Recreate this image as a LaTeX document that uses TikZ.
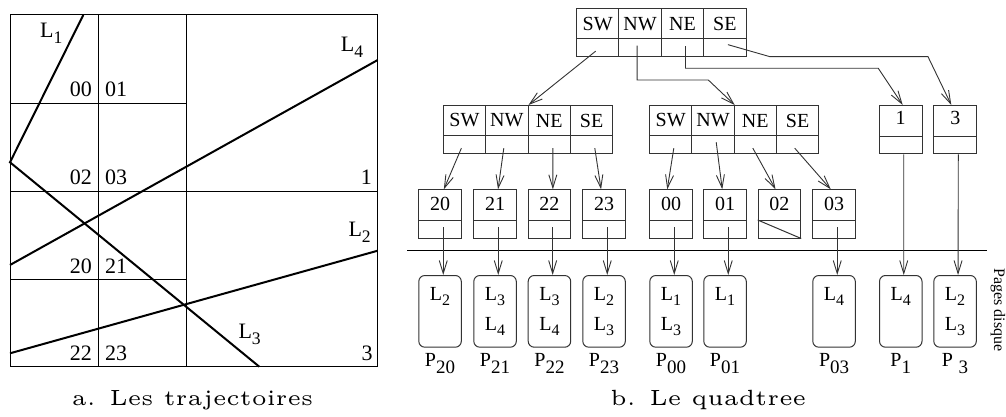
\documentclass[tikz,border=0pt]{standalone}
\usepackage{fontspec}
\usetikzlibrary{arrows.meta,calc}
\newfontfamily\tms{Liberation Serif}
\newcommand\Lsub[1]{L\raisebox{-0.6ex}{\scalebox{0.8}{#1}}}
\newcommand\Psub[1]{P\raisebox{-0.8ex}{\scalebox{0.95}{#1}}}
\definecolor{boxgray}{gray}{0.2}

\begin{document}
\begin{tikzpicture}[x=1pt,y=-1pt,
  gridline/.style={line width=1pt},
  traj/.style={line width=2pt},
  arr/.style={line width=0.9pt, draw=boxgray, -{Straight Barb[length=13pt,width=8pt]}},
  lab/.style={draw=boxgray, line width=1pt, anchor=north west, inner sep=0pt,
    minimum width=42.4pt, minimum height=30pt, font=\tms\fontsize{20}{20}\selectfont},
  ptr/.style={draw=boxgray, line width=1pt, anchor=north west, inner sep=0pt,
    minimum width=42.4pt, minimum height=18pt},
  pagebox/.style={draw=boxgray, line width=1pt, rounded corners=6pt, anchor=north west,
    minimum width=42.5pt, minimum height=71.7pt, inner sep=0pt},
  ptext/.style={font=\tms\fontsize{20}{20}\selectfont, inner sep=0pt, anchor=base},
  cellno/.style={font=\tms\fontsize{22}{22}\selectfont, inner sep=0pt},
  captext/.style={inner sep=0pt, anchor=base}
]
\useasboundingbox (0,0) rectangle (1006,417);

% ---------- a. trajectories in the grid ----------
\draw[gridline] (10,15) rectangle (377.7,366.7);
\draw[gridline] (98.3,15) -- (98.3,366.7);
\draw[gridline] (186,15) -- (186,366.7);
\draw[gridline] (10,103.3) -- (186,103.3);
\draw[gridline] (10,191.7) -- (377.7,191.7);
\draw[gridline] (10,279.3) -- (186,279.3);

\draw[traj] (83.3,15) -- (10,162.3) -- (259.3,366.7);
\draw[traj] (377.7,60) -- (10,265);
\draw[traj] (377.7,250.7) -- (10,353.3);

\node[cellno, anchor=base west] (tL1) at (40,37.7) {\Lsub{1}};
\node[cellno, anchor=base west] (tL4) at (340.7,51.7) {\Lsub{4}};
\node[cellno, anchor=base west] (tL2) at (348.3,236.7) {\Lsub{2}};
\node[cellno, anchor=base west] (tL3) at (238.3,338.3) {\Lsub{3}};

\node[cellno, anchor=base east] (c00) at (92,96.7) {00};
\node[cellno, anchor=base west] (c01) at (105,96.7) {01};
\node[cellno, anchor=base east] (c02) at (92,184.3) {02};
\node[cellno, anchor=base west] (c03) at (105,184.3) {03};
\node[cellno, anchor=base east] (c1) at (372,184.3) {1};
\node[cellno, anchor=base east] (c20) at (92,273.3) {20};
\node[cellno, anchor=base west] (c21) at (105,273.3) {21};
\node[cellno, anchor=base east] (c22) at (92,360.7) {22};
\node[cellno, anchor=base west] (c23) at (105,360.7) {23};
\node[cellno, anchor=base east] (c3) at (372.7,360.7) {3};

\node[captext] (capa) at (192.5,405) {\scalebox{4.4}{\fontsize{5}{6}\selectfont a. Les trajectoires}};

% ---------- b. quadtree ----------
% root and inner nodes
\foreach \q/\n [count=\i from 0] in {sw/SW,nw/NW,ne/NE,se/SE} {
  \node[lab] (r-\q-t) at (576+42.4*\i,8.3) {\n};
  \node[ptr, minimum height=17.7pt] (r-\q-b) at (576+42.4*\i,38.3) {};
  \node[lab] (a-\q-t) at (442.7+42.4*\i,105) {\n};
  \node[ptr, minimum height=18.3pt] (a-\q-b) at (442.7+42.4*\i,135) {};
  \node[lab] (b-\q-t) at (649+42.3*\i,105) {\n};
  \node[ptr, minimum height=18.3pt] (b-\q-b) at (649+42.3*\i,135) {};
}
% terminal nodes 1 and 3
\node[lab, minimum width=43pt, minimum height=30.7pt] (one-t) at (878.7,105) {\raisebox{5pt}{1}};
\node[ptr, minimum width=43pt, minimum height=17.6pt] (one-b) at (878.7,135.7) {};
\node[lab, minimum width=43pt, minimum height=30.7pt] (three-t) at (933.3,105) {\raisebox{5pt}{3}};
\node[ptr, minimum width=43pt, minimum height=17.6pt] (three-b) at (933.3,135.7) {};

% leaves
\foreach \x/\n in {418.3/20,473.3/21,527.7/22,582.3/23,649.3/00,703.3/01,757.7/02,812.3/03} {
  \node[lab, minimum width=42.5pt, minimum height=30.7pt] (l\n-t) at (\x,189.3) {\raisebox{3pt}{\n}};
  \node[ptr, minimum width=42.5pt, minimum height=17.5pt] (l\n-b) at (\x,220) {};
}
\draw[line width=1pt, draw=boxgray] (l02-b.north west) -- (l02-b.south east);

% disk pages
\foreach \x/\n in {418.3/20,473.3/21,527.7/22,582.3/23,649.3/00,703.3/01,812.3/03,879/1,933.3/3} {
  \node[pagebox] (p\n) at (\x,275) {};
}
\foreach \n/\a/\b in {20/2/,21/3/4,22/3/4,23/2/3,00/1/3,01/1/,03/4/,1/4/,3/2/3} {
  \node[ptext] (p\n-a) at ($(p\n.north)+(0,25)$) {\Lsub{\a}};
  \node[ptext] (p\n-b) at ($(p\n.north)+(0,55)$) {\ifx\b\empty\else\Lsub{\b}\fi};
}
\foreach \n in {20,21,22,23,00,01,03,1} {
  \node[ptext] (p\n-name) at ($(p\n.south)+(0,18.3)$) {\Psub{\n}};
}
\node[ptext] (p3-name) at ($(p3.south)+(0,18.3)$) {\Psub{\hspace{6pt}3}};

\node[font=\tms\fontsize{16}{16}\selectfont, rotate=-90, inner sep=0pt] (disk) at (998,310) {Pages disque};

% separator between index and disk pages
\coordinate (sepL) at (407.3,250);
\coordinate (sepR) at (987.3,250);
\draw[line width=1pt] (sepL) -- (sepR);

% pointers from the root
\coordinate (nwbend) at (708.3,80);
\coordinate (nebend) at (878.3,68.3);
\coordinate (sebendA) at (770,56.7);
\coordinate (sebendB) at (928,56.7);
\draw[arr] ($(r-sw-b.center)+(-2,3.5)$) -- (a-nw-t.north east);
\draw[arr] ($(r-nw-b.center)+(-3,-2)$) |- (nwbend) -- (b-nw-t.north east);
\draw[arr] ($(r-ne-b.center)+(3,-1.5)$) |- (nebend) -- ($(one-t.north)+(2,0)$);
\draw[arr] ($(r-se-b.center)+(3,-3)$) -- (sebendA) -- (sebendB) -- ($(three-t.north)+(-4,0)$);

% pointers from the inner nodes
\draw[arr] ($(a-sw-b.center)+(-3,3.5)$) -- ($(l20-t.north)+(3.8,0)$);
\draw[arr] ($(a-nw-b.center)+(-3,3.5)$) -- ($(l21-t.north)+(3,0)$);
\draw[arr] ($(a-ne-b.center)+(3.6,3.5)$) -- ($(l22-t.north)+(3.4,0)$);
\draw[arr] ($(a-se-b.center)+(3.2,3.5)$) -- ($(l23-t.north)+(-3,0)$);
\draw[arr] ($(b-sw-b.center)+(3.1,3.5)$) -- ($(l00-t.north)+(-3.8,0)$);
\draw[arr] ($(b-nw-b.center)+(3.2,-2.5)$) -- ($(l01-t.north)+(-2.8,0)$);
\draw[arr] ($(b-ne-b.center)+(-2.5,3.5)$) -- ($(l02-t.north)+(-3.9,0)$);
\draw[arr] ($(b-se-b.center)+(-2.9,3.5)$) -- ($(l03-t.north)+(-3.3,0)$);

% pointers to disk pages
\foreach \n in {20,21,22,23,00,01,03} {
  \draw[arr] ($(l\n-b.center)+(3.2,-2)$) -- ($(p\n.north)+(3.2,0)$);
}
\draw[arr] ($(one-b.south)+(3,0)$) -- ($(p1.north)+(3,0)$);
\draw[arr] ($(three-b.south)+(3,0)$) -- ($(p3.north)+(3,0)$);

\node[captext] (capb) at (708.3,405) {\scalebox{4.4}{\fontsize{5}{6}\selectfont b. Le quadtree}};
\end{tikzpicture}
\end{document}
